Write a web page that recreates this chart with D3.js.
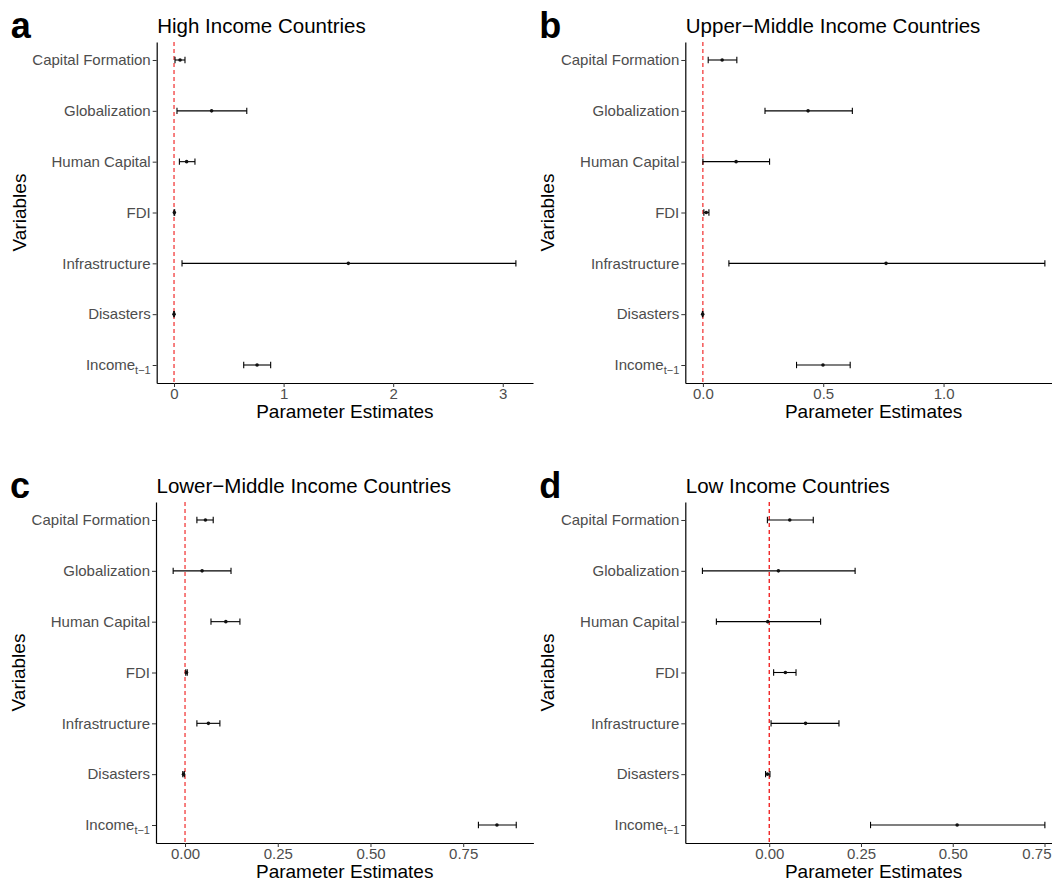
<!DOCTYPE html>
<html><head><meta charset="utf-8">
<script src="https://cdn.jsdelivr.net/npm/d3@7"></script>
<style>
body{margin:0;background:#fff}
svg{display:block;font-family:"Liberation Sans",Arial,Helvetica,sans-serif}
</style>
</head><body>
<svg id="chart" width="1052" height="880"></svg>
<script>
// ---------------- data ----------------
const categories = ["Capital Formation","Globalization","Human Capital","FDI","Infrastructure","Disasters","Income"];
const titles = ["High Income Countries","Upper\u2212Middle Income Countries","Lower\u2212Middle Income Countries","Low Income Countries"];
const panelLetters = ["a","b","c","d"];

const highEst  = [0.055, 0.343, 0.115, 0.003, 1.591, 0.000, 0.758];
const highLo   = [0.009, 0.027, 0.049, 0.000, 0.073, -0.002, 0.636];
const highHi   = [0.100, 0.664, 0.191, 0.006, 3.120, 0.002, 0.882];

const upperEst = [0.080, 0.437, 0.138, 0.014, 0.761, -0.001, 0.499];
const upperLo  = [0.022, 0.258, 0.000, 0.004, 0.108, -0.002, 0.389];
const upperHi  = [0.141, 0.621, 0.277, 0.025, 1.421, 0.000, 0.612];

const lowerEst = [0.055, 0.046, 0.110, 0.004, 0.063, -0.004, 0.841];
const lowerLo  = [0.032, -0.032, 0.070, 0.002, 0.032, -0.006, 0.791];
const lowerHi  = [0.076, 0.124, 0.148, 0.006, 0.094, -0.002, 0.893];

const lowEst   = [0.056, 0.025, -0.004, 0.044, 0.099, -0.005, 0.512];
const lowLo    = [-0.005, -0.182, -0.144, 0.012, 0.005, -0.010, 0.276];
const lowHi    = [0.120, 0.234, 0.140, 0.073, 0.190, 0.002, 0.751];

const ticksHigh  = [0, 1, 2, 3];
const ticksUpper = [0, 0.5, 1.0];
const ticksLower = [0, 0.25, 0.5, 0.75];
const ticksLow   = [0, 0.25, 0.5, 0.75];

const xTitle = "Parameter Estimates";
const yTitle = "Variables";

// ---------------- layout ----------------
const W = 1052;
const panels = [
  {est: highEst,  lo: highLo,  hi: highHi,  ticks: ticksHigh,  fmt: d3.format("d"),   left:156.7, right:533,  top:42,  bottom:383, lineW:1},
  {est: upperEst, lo: upperLo, hi: upperHi, ticks: ticksUpper, fmt: d3.format(".1f"), left:685.3, right:1062, top:42,  bottom:383, lineW:1},
  {est: lowerEst, lo: lowerLo, hi: lowerHi, ticks: ticksLower, fmt: d3.format(".2f"), left:156,   right:533.4,top:502, bottom:843, lineW:1},
  {est: lowEst,   lo: lowLo,   hi: lowHi,   ticks: ticksLow,   fmt: d3.format(".2f"), left:685.3, right:1062, top:502, bottom:843, lineW:1.2}
];

const svg = d3.select("#chart");
const tickGrey = "#4d4d4d";

panels.forEach((p, i) => {
  const g = svg.append("g");
  // ggplot-like continuous expansion (5% each side), including the zero line
  const lo = Math.min(0, d3.min(p.lo)), hi = Math.max(0, d3.max(p.hi));
  const ext = (hi - lo) * 0.05;
  const x = d3.scaleLinear().domain([lo - ext, hi + ext]).range([p.left, p.right]);
  const y = d3.scalePoint().domain(categories).range([p.top, p.bottom]).padding(0.354);

  // zero reference line
  g.append("line")
    .attr("x1", x(0)).attr("x2", x(0))
    .attr("y1", p.top).attr("y2", p.bottom)
    .attr("stroke", "#ee0000").attr("stroke-width", p.lineW)
    .attr("stroke-dasharray", "4,3");

  // error bars
  const rows = categories.map((c, k) => ({c, est: p.est[k], lo: p.lo[k], hi: p.hi[k]}));
  const eb = g.append("g").attr("stroke", "#000").attr("stroke-width", 1.1);
  eb.selectAll("line.h").data(rows).join("line").attr("class","h")
    .attr("x1", d => x(d.lo)).attr("x2", d => x(d.hi))
    .attr("y1", d => y(d.c)).attr("y2", d => y(d.c));
  eb.selectAll("line.l").data(rows).join("line").attr("class","l")
    .attr("x1", d => x(d.lo)).attr("x2", d => x(d.lo))
    .attr("y1", d => y(d.c) - 3.2).attr("y2", d => y(d.c) + 3.2);
  eb.selectAll("line.r").data(rows).join("line").attr("class","r")
    .attr("x1", d => x(d.hi)).attr("x2", d => x(d.hi))
    .attr("y1", d => y(d.c) - 3.2).attr("y2", d => y(d.c) + 3.2);
  g.selectAll("circle").data(rows).join("circle")
    .attr("cx", d => x(d.est)).attr("cy", d => y(d.c)).attr("r", 1.8)
    .attr("fill", "#111");

  // axes
  const xa = g.append("g").attr("transform", `translate(0,${p.bottom})`)
    .call(d3.axisBottom(x).tickValues(p.ticks).tickFormat(p.fmt).tickSize(4).tickSizeOuter(0).tickPadding(1));
  const ya = g.append("g").attr("transform", `translate(${p.left},0)`)
    .call(d3.axisLeft(y).tickSize(4).tickSizeOuter(0).tickPadding(2));
  [xa, ya].forEach(a => {
    a.select(".domain").attr("stroke", "#000").attr("stroke-width", 1.2);
    a.selectAll(".tick line").attr("stroke", "#333").attr("stroke-width", 1);
    a.selectAll(".tick text").attr("fill", tickGrey).style("font-size", "15px")
      .style("font-family", "'Liberation Sans',Arial,sans-serif");
  });
  // keep tick labels inside the canvas
  xa.selectAll(".tick text").each(function(d) {
    const bb = this.getBBox();
    const overflow = x(d) + bb.width / 2 - (W - 1);
    if (overflow > 0) d3.select(this).attr("x", -overflow);
  });
  // subscript for Income_{t-1}
  ya.selectAll(".tick text").filter(d => d === "Income").each(function() {
    const t = d3.select(this);
    t.text(null);
    t.append("tspan").text("Income");
    t.append("tspan").attr("dy", "0.3em").style("font-size", "11px").text("t\u22121");
  });

  // titles
  g.append("text").attr("x", p.left + 0.5).attr("y", p.top - 9)
    .style("font-size", "20.5px").attr("fill", "#000").text(titles[i]);
  g.append("text").attr("x", p.left - 146).attr("y", p.top - 4)
    .style("font-size", "36px").style("font-weight", "bold").attr("fill", "#000").text(panelLetters[i]);
  g.append("text").attr("x", (p.left + p.right) / 2).attr("y", p.bottom + 34.5)
    .attr("text-anchor", "middle").style("font-size", "19px").attr("fill", "#000").text(xTitle);
  g.append("text")
    .attr("transform", `translate(${p.left - 131},${(p.top + p.bottom) / 2}) rotate(-90)`)
    .attr("text-anchor", "middle").style("font-size", "19px").attr("fill", "#000").text(yTitle);
});
</script>
</body></html>
